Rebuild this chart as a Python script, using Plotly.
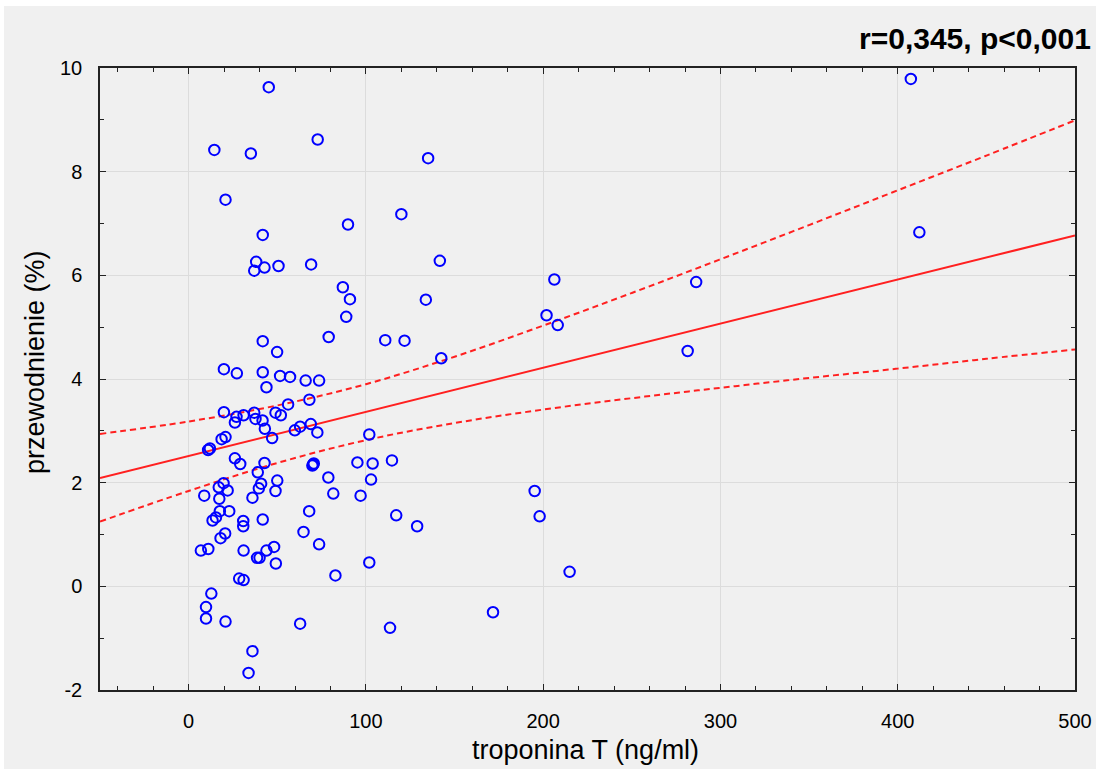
import plotly.graph_objects as go

# troponina T (ng/ml)
troponina = [
    45.2, 72.8, 14.5, 35.1, 20.8, 89.9, 41.8, 38.1, 37.0, 42.8, 50.7, 69.1,
    135.1, 120.0, 141.7, 133.8, 206.3, 201.9, 208.2, 110.9, 121.8,
    142.5, 281.5, 286.3, 407.4, 412.2,
    87.0, 91.0, 88.9, 79.0, 41.8, 49.9, 19.9, 27.2, 41.8, 51.6, 57.2, 66.0, 73.6,
    43.9, 68.1, 56.1, 19.9, 27.0, 31.0, 37.0, 37.7, 41.7, 49.0, 52.0, 26.1, 43.0,
    47.1, 59.9, 62.9, 68.9, 72.6, 101.9, 18.6, 20.8, 11.0, 12.0, 26.1, 29.1, 42.8,
    69.8, 70.6, 70.2, 95.2, 103.8, 114.7, 39.0, 78.8, 102.9, 50.0, 40.9,
    19.7, 17.0, 22.0, 39.6, 49.0, 8.8, 17.3, 36.0, 81.6, 97.0,
    22.9, 17.6, 15.4, 13.5, 30.8, 30.8, 41.8, 68.0, 64.8, 20.6, 18.0, 73.6,
    6.9, 11.1, 31.0, 38.6, 40.0, 43.9, 48.2, 49.2, 101.9, 82.8, 28.5, 31.0,
    12.8, 9.8, 9.8, 20.8, 62.9, 36.0, 33.8,
    117.1, 128.9, 195.2, 198.0, 214.9, 171.7, 113.6,
]

# przewodnienie (%)
przewodnienie = [
    9.63, 8.62, 8.42, 8.35, 7.46, 6.98, 6.78, 6.26, 6.09, 6.15, 6.18, 6.21,
    8.26, 7.18, 6.28, 5.53, 5.92, 5.23, 5.04, 4.75, 4.74,
    4.40, 4.54, 5.87, 9.79, 6.83,
    5.77, 5.54, 5.20, 4.81, 4.73, 4.52, 4.19, 4.11, 4.13, 4.06, 4.04, 3.97, 3.97,
    3.84, 3.60, 3.51, 3.36, 3.27, 3.30, 3.35, 3.23, 3.20, 3.35, 3.30, 3.16, 3.04,
    2.86, 3.01, 3.08, 3.13, 2.97, 2.93, 2.84, 2.88, 2.63, 2.66, 2.47, 2.36, 2.38,
    2.33, 2.37, 2.35, 2.39, 2.37, 2.43, 2.20, 2.10, 2.06, 2.04, 1.98,
    1.99, 1.91, 1.85, 1.89, 1.84, 1.75, 1.69, 1.71, 1.79, 1.75,
    1.45, 1.45, 1.33, 1.27, 1.26, 1.16, 1.29, 1.45, 1.05, 1.02, 0.93, 0.81,
    0.69, 0.72, 0.69, 0.55, 0.55, 0.69, 0.76, 0.44, 0.46, 0.21, 0.15, 0.12,
    -0.14, -0.40, -0.62, -0.68, -0.72, -1.25, -1.67,
    1.37, 1.16, 1.84, 1.35, 0.28, -0.50, -0.80,
]

# regression line and 95% confidence band
fit_x = [-50, 500]
fit_y = [2.09, 6.77]
band_x = [-50, 0, 50, 100, 150, 200, 250, 300, 350, 400, 450, 500]
band_upper = [2.94, 3.18, 3.49, 3.90, 4.43, 5.03, 5.66, 6.31, 6.97, 7.64, 8.31, 8.99]
band_lower = [1.25, 1.84, 2.38, 2.82, 3.15, 3.41, 3.63, 3.83, 4.02, 4.20, 4.39, 4.57]

x_ticks = [0, 100, 200, 300, 400, 500]
y_ticks = [-2, 0, 2, 4, 6, 8, 10]

stat_text = "r=0,345, p<0,001"
x_title = "troponina T (ng/ml)"
y_title = "przewodnienie (%)"

FONT = "Liberation Sans, Arial, sans-serif"

fig = go.Figure()
for band in (band_upper, band_lower):
    fig.add_trace(go.Scatter(x=band_x, y=band, mode="lines",
                             line=dict(color="#ff2020", width=2, dash="6px,4px", shape="spline"),
                             hoverinfo="skip", showlegend=False))
fig.add_trace(go.Scatter(x=fit_x, y=fit_y, mode="lines",
                         line=dict(color="#ff2020", width=2),
                         showlegend=False))
fig.add_trace(go.Scatter(x=troponina, y=przewodnienie, mode="markers",
                         marker=dict(symbol="circle-open", size=10.5, color="#0000ff",
                                     line=dict(width=2, color="#0000ff")),
                         showlegend=False))

L, R, T, B = 100, 1075, 68, 690
W, H = 1096, 769

def px_to_paper_x(px):
    return (px - L) / (R - L)

def px_to_paper_y(py):
    return (B - py) / (B - T)

axis_common = dict(
    showline=True, linecolor="#222222", linewidth=1.5, mirror="allticks",
    ticks="inside", ticklen=6, tickwidth=1.2, tickcolor="#222222",
    showgrid=True, gridcolor="#dcdcdc", gridwidth=1,
    zeroline=False, automargin=False,
    tickfont=dict(family=FONT, size=20, color="#000000"),
)

fig.update_layout(
    width=W, height=H,
    margin=dict(l=L, r=W - R, t=T, b=H - B, autoexpand=False),
    paper_bgcolor="#ffffff",
    plot_bgcolor="#ffffff",
    xaxis=dict(range=[-50, 500], tickvals=x_ticks, ticktext=[str(v) for v in x_ticks],
               minor=dict(dtick=20, tick0=0, ticks="inside", ticklen=4, tickcolor="#222222", showgrid=False),
               ticklabelstandoff=12, **axis_common),
    yaxis=dict(range=[-2, 10], tickvals=y_ticks, ticktext=[str(v) for v in y_ticks],
               minor=dict(dtick=1, tick0=0, ticks="inside", ticklen=4, tickcolor="#222222", showgrid=False),
               ticklabelstandoff=12, **axis_common),
    shapes=[dict(type="rect", xref="paper", yref="paper",
                 x0=px_to_paper_x(4), x1=px_to_paper_x(W + 5),
                 y0=px_to_paper_y(H + 5), y1=px_to_paper_y(6),
                 fillcolor="#f0f0f0", line=dict(width=0), layer="below")],
    annotations=[
        dict(text=stat_text, xref="paper", yref="paper",
             x=px_to_paper_x(1093), y=px_to_paper_y(38), xanchor="right", yanchor="middle",
             showarrow=False,
             font=dict(family=FONT, size=30, color="#000000", weight="bold")),
        dict(text=x_title, xref="paper", yref="paper",
             x=px_to_paper_x(585), y=px_to_paper_y(750), xanchor="center", yanchor="middle",
             showarrow=False,
             font=dict(family=FONT, size=27, color="#000000")),
        dict(text=y_title, xref="paper", yref="paper", textangle=-90,
             x=px_to_paper_x(35), y=px_to_paper_y(362), xanchor="center", yanchor="middle",
             showarrow=False,
             font=dict(family=FONT, size=27, color="#000000")),
    ],
)

fig.write_html("out.html")
